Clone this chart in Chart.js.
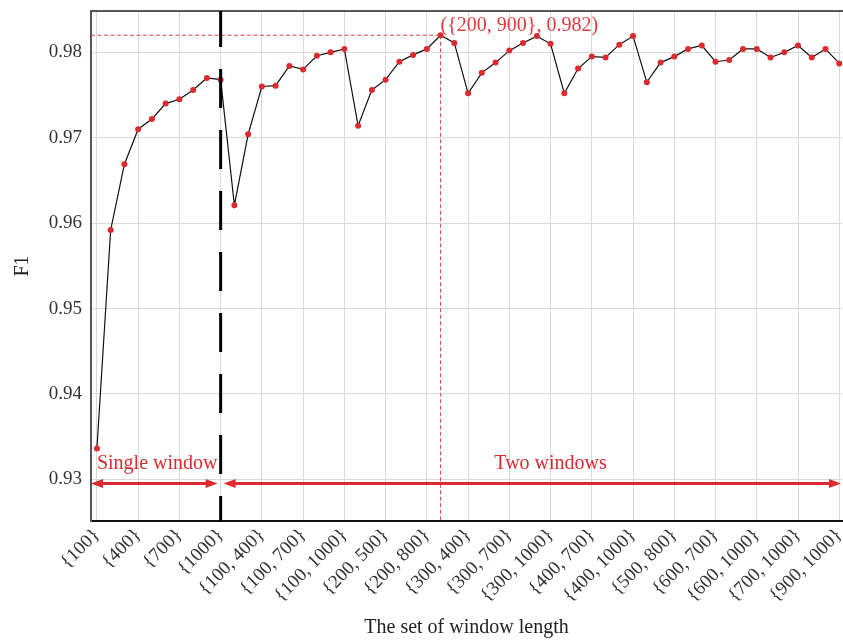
<!DOCTYPE html>
<html>
<head>
<meta charset="utf-8">
<script src="https://cdn.jsdelivr.net/npm/chart.js@4/dist/chart.umd.min.js"></script>
<style>
  html, body { margin: 0; padding: 0; background: #fff; overflow: hidden; }
  #wrap { width: 846px; height: 644px; }
</style>
</head>
<body>
<div id="wrap"><canvas id="chartF1"></canvas></div>
<script>
const windowSets = [
    '{100}', '{200}', '{300}', '{400}', '{500}', '{600}', '{700}', '{800}', '{900}', '{1000}',
    '{100, 200}', '{100, 300}', '{100, 400}', '{100, 500}', '{100, 600}', '{100, 700}', '{100, 800}', '{100, 900}', '{100, 1000}',
    '{200, 300}', '{200, 400}', '{200, 500}', '{200, 600}', '{200, 700}', '{200, 800}', '{200, 900}', '{200, 1000}',
    '{300, 400}', '{300, 500}', '{300, 600}', '{300, 700}', '{300, 800}', '{300, 900}', '{300, 1000}',
    '{400, 500}', '{400, 600}', '{400, 700}', '{400, 800}', '{400, 900}', '{400, 1000}',
    '{500, 600}', '{500, 700}', '{500, 800}', '{500, 900}', '{500, 1000}',
    '{600, 700}', '{600, 800}', '{600, 900}', '{600, 1000}',
    '{700, 800}', '{700, 900}', '{700, 1000}',
    '{800, 900}', '{800, 1000}',
    '{900, 1000}'
];

const f1Scores = [
    0.9336, 0.9592, 0.9669, 0.9710, 0.9722, 0.9740, 0.9745, 0.9756, 0.9770, 0.9768,
    0.9621, 0.9704, 0.9760, 0.9761, 0.9784, 0.9780, 0.9796, 0.9800, 0.9804,
    0.9714, 0.9756, 0.9768, 0.9789, 0.9797, 0.9804, 0.9820, 0.9811,
    0.9752, 0.9776, 0.9788, 0.9802, 0.9811, 0.9819, 0.9810,
    0.9752, 0.9781, 0.9795, 0.9794, 0.9809, 0.9819,
    0.9765, 0.9788, 0.9795, 0.9804, 0.9808,
    0.9789, 0.9791, 0.9804, 0.9804,
    0.9794, 0.9800, 0.9808,
    0.9794, 0.9804,
    0.9787
];

const xTickIndex = [0, 3, 6, 9, 12, 15, 18, 21, 24, 27, 30, 33, 36, 39, 42, 45, 48, 51, 54];
const yTicks = [0.93, 0.94, 0.95, 0.96, 0.97, 0.98];

const xRange = [-0.43, 54.2];
const yRange = [0.92512, 0.98484];

// last single-window set, where the two-window sets begin
const lastSingleIndex = 9;
const arrowLevel = 0.9295;
const twoWindowsLabelAt = 33;

const FONT = "'Liberation Serif', 'Times New Roman', serif";
const RED = '#dc2a2e';

const peakIndex = f1Scores.indexOf(Math.max(...f1Scores));

function drawArrow(ctx, x1, x2, y) {
    const head = 12, half = 4.5;
    ctx.beginPath();
    ctx.moveTo(x1 + head - 2, y);
    ctx.lineTo(x2 - head + 2, y);
    ctx.stroke();
    ctx.beginPath();
    ctx.moveTo(x1, y);
    ctx.lineTo(x1 + head, y - half);
    ctx.lineTo(x1 + head, y + half);
    ctx.closePath();
    ctx.moveTo(x2, y);
    ctx.lineTo(x2 - head, y - half);
    ctx.lineTo(x2 - head, y + half);
    ctx.closePath();
    ctx.fill();
}

const annotations = {
    id: 'annotations',
    beforeDatasetsDraw(chart) {
        const { ctx, chartArea: a, scales: { x, y } } = chart;
        const px = x.getPixelForValue(peakIndex);
        const py = y.getPixelForValue(f1Scores[peakIndex]);
        ctx.save();
        ctx.strokeStyle = '#e0434a';
        ctx.lineWidth = 1;
        ctx.setLineDash([4, 2.5]);
        ctx.beginPath();
        ctx.moveTo(a.left, py);
        ctx.lineTo(px, py);
        ctx.moveTo(px, py);
        ctx.lineTo(px, a.bottom);
        ctx.stroke();
        ctx.restore();
    },
    afterDatasetsDraw(chart) {
        const { ctx, chartArea: a, scales: { x, y } } = chart;
        const sep = x.getPixelForValue(lastSingleIndex);
        const ay = y.getPixelForValue(arrowLevel);
        ctx.save();

        // top frame line
        ctx.strokeStyle = '#555';
        ctx.lineWidth = 2;
        ctx.beginPath();
        ctx.moveTo(a.left - 1, a.top);
        ctx.lineTo(a.right + 3, a.top);
        ctx.stroke();

        // single / two window separator
        ctx.strokeStyle = '#000';
        ctx.lineWidth = 3;
        ctx.setLineDash([39, 22]);
        ctx.lineDashOffset = 3;
        ctx.beginPath();
        ctx.moveTo(sep, a.top);
        ctx.lineTo(sep, a.bottom);
        ctx.stroke();
        ctx.setLineDash([]);

        // range arrows
        ctx.strokeStyle = RED;
        ctx.fillStyle = RED;
        ctx.lineWidth = 3;
        drawArrow(ctx, a.left, sep - 3, ay);
        drawArrow(ctx, sep + 3, a.right - 1, ay);

        ctx.font = '20px ' + FONT;
        ctx.textBaseline = 'alphabetic';
        ctx.textAlign = 'left';
        ctx.fillText('Single window', x.getPixelForValue(0), ay - 15);
        ctx.textAlign = 'center';
        ctx.fillText('Two windows', x.getPixelForValue(twoWindowsLabelAt), ay - 15);

        // peak label
        const px = x.getPixelForValue(peakIndex);
        const py = y.getPixelForValue(f1Scores[peakIndex]);
        ctx.fillStyle = '#e03a40';
        ctx.textAlign = 'left';
        ctx.fillText('(' + windowSets[peakIndex] + ', ' + f1Scores[peakIndex].toFixed(3) + ')', px, py - 4);
        ctx.restore();
    }
};

function initF1Chart(canvasId) {
    const ctx = document.getElementById(canvasId).getContext('2d');

    new Chart(ctx, {
        type: 'line',
        data: {
            datasets: [{
                label: 'F1',
                data: f1Scores.map((v, i) => ({ x: i, y: v })),
                borderColor: '#111',
                borderWidth: 1.2,
                pointRadius: 3,
                pointBorderWidth: 0,
                pointBackgroundColor: RED,
                tension: 0
            }]
        },
        options: {
            responsive: true,
            maintainAspectRatio: false,
            animation: false,
            layout: {
                padding: { top: 11, right: 0, left: 0, bottom: 0 }
            },
            plugins: {
                legend: { display: false },
                tooltip: { enabled: false }
            },
            scales: {
                x: {
                    type: 'linear',
                    min: xRange[0],
                    max: xRange[1],
                    afterBuildTicks: s => { s.ticks = xTickIndex.map(v => ({ value: v })); },
                    afterFit: s => {
                        s.height = 123;
                        s.paddingLeft = 0; s.paddingRight = 0;
                        s.paddingTop = 0; s.paddingBottom = 0;
                    },
                    border: { color: '#111', width: 2 },
                    grid: { color: '#d9d9d9', drawTicks: false },
                    ticks: {
                        autoSkip: false,
                        minRotation: 45,
                        maxRotation: 45,
                        padding: 3,
                        color: '#333',
                        font: { family: FONT, size: 19 },
                        callback: v => windowSets[v]
                    },
                    title: {
                        display: true,
                        text: 'The set of window length',
                        color: '#222',
                        padding: { top: 0, bottom: 4 },
                        font: { family: FONT, size: 20 }
                    }
                },
                y: {
                    min: yRange[0],
                    max: yRange[1],
                    afterBuildTicks: s => { s.ticks = yTicks.map(v => ({ value: v })); },
                    afterFit: s => {
                        s.width = 91;
                        s.paddingLeft = 0; s.paddingRight = 0;
                        s.paddingTop = 0; s.paddingBottom = 0;
                    },
                    border: { color: '#555', width: 2 },
                    grid: { color: '#d9d9d9', drawTicks: false },
                    ticks: {
                        padding: 9,
                        color: '#333',
                        font: { family: FONT, size: 19 },
                        callback: v => v.toFixed(2)
                    },
                    title: {
                        display: true,
                        text: 'F1',
                        color: '#222',
                        padding: { top: 11, bottom: 0 },
                        font: { family: FONT, size: 20 }
                    }
                }
            }
        },
        plugins: [annotations]
    });
}

document.addEventListener('DOMContentLoaded', function () {
    initF1Chart('chartF1');
});
</script>
</body>
</html>
